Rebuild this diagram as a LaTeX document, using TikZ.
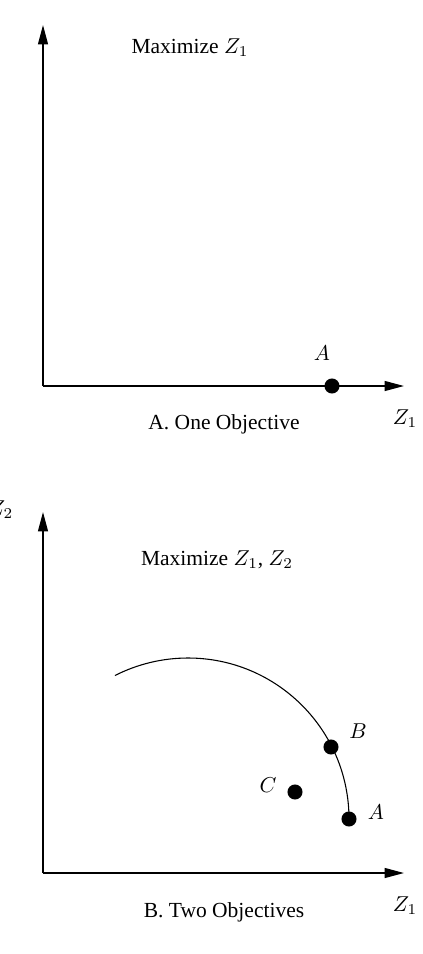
\documentclass[tikz,border=0pt]{standalone}
\usepackage{fontspec}
\setmainfont{Liberation Serif}
\usetikzlibrary{arrows.meta}

\begin{document}
\begin{tikzpicture}[x=0.465pt, y=-0.465pt,
  axis/.style={line width=0.7pt, -{Triangle[length=9pt,width=4.6pt]}},
  dot/.style={circle, fill=black, inner sep=0pt, minimum size=7pt},
  lbl/.style={inner sep=0pt}]
\useasboundingbox (0,0) rectangle (422,954);
% one objective
\coordinate (O1) at (43,386);
\coordinate (Y1) at (43,25);
\coordinate (X1) at (404,386);
\draw[axis] (O1) -- (Y1);
\draw[axis] (O1) -- (X1);
\node[dot] (A1) at (332,386) {};
\node[lbl] (A1lbl) at (322,353) {$A$};
\node[lbl] (Z1top) at (405,419) {$Z_1$};
\node[lbl] (max1) at (190,48) {Maximize $Z_1$};
\node[lbl] (cap1) at (224,424) {A. One Objective};
% two objectives
\coordinate (O2) at (43,873);
\coordinate (Y2) at (43,512);
\coordinate (X2) at (404,873);
\draw[axis] (O2) -- (Y2);
\draw[axis] (O2) -- (X2);
\draw[line width=0.5pt] (349,819) arc[start angle=0, end angle=-117, radius=161];
\node[dot] (A2) at (349,819) {};
\node[dot] (B2) at (331,747) {};
\node[dot] (C2) at (295,792) {};
\node[lbl] (A2lbl) at (376,812) {$A$};
\node[lbl] (B2lbl) at (358,731) {$B$};
\node[lbl] (C2lbl) at (268,785) {$C$};
\node[lbl] (Z1bot) at (405,906) {$Z_1$};
\node[lbl] (Z2) at (1,510) {$Z_2$};
\node[lbl] (max2) at (217,560) {Maximize $Z_1$, $Z_2$};
\node[lbl] (cap2) at (224,912) {B. Two Objectives};
\end{tikzpicture}
\end{document}
